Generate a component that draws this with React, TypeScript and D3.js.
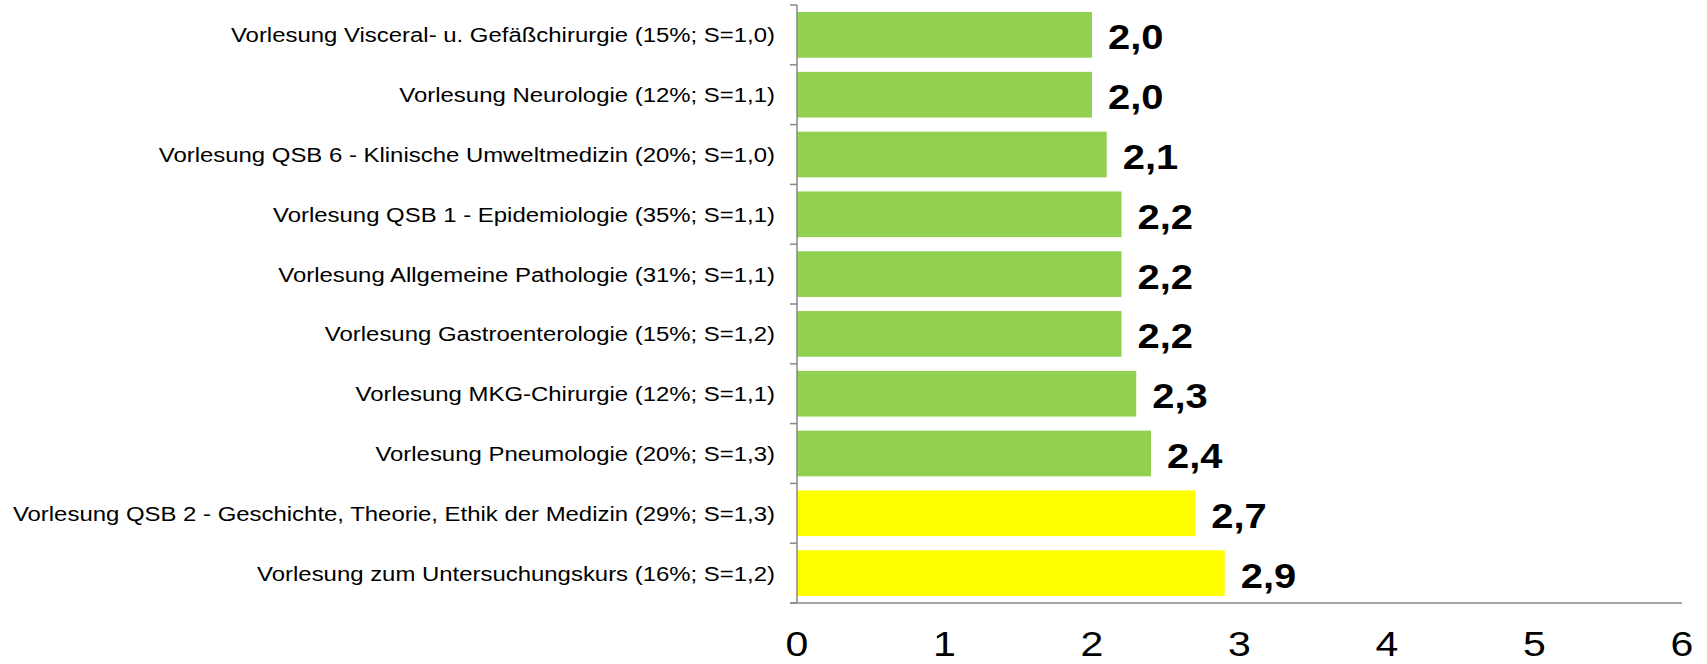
import React, { useEffect, useRef } from "react";
import * as d3 from "d3";

const categories = [
	"Vorlesung Visceral- u. Gefäßchirurgie (15%; S=1,0)",
	"Vorlesung Neurologie (12%; S=1,1)",
	"Vorlesung QSB 6 - Klinische Umweltmedizin (20%; S=1,0)",
	"Vorlesung QSB 1 - Epidemiologie (35%; S=1,1)",
	"Vorlesung Allgemeine Pathologie (31%; S=1,1)",
	"Vorlesung Gastroenterologie (15%; S=1,2)",
	"Vorlesung MKG-Chirurgie (12%; S=1,1)",
	"Vorlesung Pneumologie (20%; S=1,3)",
	"Vorlesung QSB 2 - Geschichte, Theorie, Ethik der Medizin (29%; S=1,3)",
	"Vorlesung zum Untersuchungskurs (16%; S=1,2)",
];
const values = [2.0, 2.0, 2.1, 2.2, 2.2, 2.2, 2.3, 2.4, 2.7, 2.9];
const xTicks = [0, 1, 2, 3, 4, 5, 6];

const fmt = (v: number) => d3.format(".1f")(v).replace(".", ",");

const App = () => {
	const svgRef = useRef<SVGSVGElement>(null);

	useEffect(() => {
		const svg = d3.select(svgRef.current);
		svg.selectAll("*").remove();

		const stretch = 1.14; // text in the original is wider than tall
		const x = d3.scaleLinear().domain([0, 6]).range([797, 1682]);
		const y = d3
			.scaleBand()
			.domain(categories)
			.range([5, 603])
			.paddingInner(0.236)
			.paddingOuter(0.118);
		const color = d3.scaleThreshold<number, string>().domain([2.5]).range(["#92D050", "#FFFF00"]);

		const data = categories.map((c, i) => ({ name: c, value: values[i] }));

		// bars
		svg
			.append("g")
			.selectAll("rect")
			.data(data)
			.enter()
			.append("rect")
			.attr("x", x(0))
			.attr("y", (d) => y(d.name)!)
			.attr("width", (d) => x(d.value) - x(0))
			.attr("height", y.bandwidth())
			.attr("fill", (d) => color(d.value));

		// value labels
		svg
			.append("g")
			.selectAll("text")
			.data(data)
			.enter()
			.append("text")
			.attr(
				"transform",
				(d) => `translate(${x(d.value) + 16},${y(d.name)! + y.bandwidth() / 2 + 14.5}) scale(${stretch},1)`
			)
			.attr("font-family", "Liberation Sans, Arial, sans-serif")
			.attr("font-size", 35)
			.attr("font-weight", "bold")
			.attr("fill", "#000")
			.text((d) => fmt(d.value));

		// category labels
		svg
			.append("g")
			.selectAll("text")
			.data(data)
			.enter()
			.append("text")
			.attr("transform", (d) => `translate(775,${y(d.name)! + y.bandwidth() / 2 + 7.5}) scale(${stretch},1)`)
			.attr("text-anchor", "end")
			.attr("font-family", "Liberation Sans, Arial, sans-serif")
			.attr("font-size", 21)
			.attr("fill", "#000")
			.text((d) => d.name);

		// axes
		const axisColor = "#888888";
		const step = y.step();
		const bounds = d3.range(categories.length + 1).map((i) => y.range()[0] + i * step);

		const axes = svg.append("g").attr("stroke", axisColor).attr("stroke-width", 1.5);
		axes
			.append("line")
			.attr("x1", x(0))
			.attr("x2", x(0))
			.attr("y1", bounds[0])
			.attr("y2", 603);
		axes
			.selectAll(".tick")
			.data(bounds)
			.enter()
			.append("line")
			.attr("class", "tick")
			.attr("x1", x(0) - 7)
			.attr("x2", x(0))
			.attr("y1", (d) => d)
			.attr("y2", (d) => d);
		axes
			.append("line")
			.attr("x1", x(0) - 7)
			.attr("x2", x(6))
			.attr("y1", 603)
			.attr("y2", 603);

		// x tick labels
		svg
			.append("g")
			.selectAll("text")
			.data(xTicks)
			.enter()
			.append("text")
			.attr("transform", (d) => `translate(${x(d)},656) scale(${stretch},1)`)
			.attr("text-anchor", "middle")
			.attr("font-family", "Liberation Sans, Arial, sans-serif")
			.attr("font-size", 36)
			.attr("fill", "#000")
			.text((d) => d);
	}, []);

	return (
		<svg
			ref={svgRef}
			width="1707"
			height="664"
			style={{ position: "absolute", left: 0, top: 0, background: "#fff" }}
		></svg>
	);
};

export default App;
